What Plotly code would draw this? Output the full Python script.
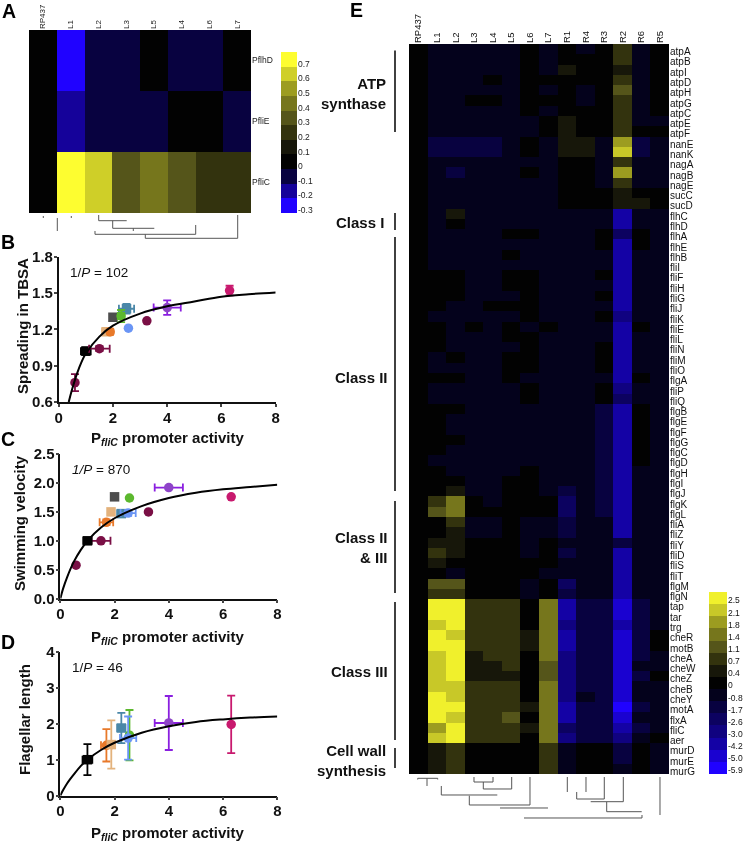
import plotly.graph_objects as go

W, H = 743, 843
def fx(p): return p / W
def fy(p): return 1 - p / H

# ---------- Panel A data ----------
a_cols = ["RP437", "L1", "L2", "L3", "L5", "L4", "L6", "L7"]
a_rows = ["PflhD", "PfliE", "PfliC"]
a_pflhD = [0, -0.3, -0.1, -0.1, 0, -0.1, -0.1, 0]
a_pfliE = [0, -0.2, -0.1, -0.1, -0.1, 0, 0, -0.1]
a_pfliC = [0, 0.7, 0.6, 0.3, 0.4, 0.3, 0.2, 0.2]
a_levels = [-0.3, -0.2, -0.1, 0, 0.1, 0.2, 0.3, 0.4, 0.5, 0.6, 0.7]
a_colors = ["#2000ff", "#15009a", "#080040", "#000000", "#17170a", "#33330e",
            "#55551a", "#76761c", "#9c9c20", "#cfcf28", "#fdfd30"]

# ---------- Panel E data (colour level per gene, strain) ----------
e_cols = ["RP437", "L1", "L2", "L3", "L4", "L5", "L6", "L7", "R1", "R4", "R3", "R2", "R6", "R5"]
e_genes = ["atpA","atpB","atpI","atpD","atpH","atpG","atpC","atpE","atpF","nanE","nanK","nagA","nagB","nagE","sucC","sucD",
           "flhC","flhD","flhA","flhE","flhB","fliI","fliF","fliH","fliG","fliJ","fliK","fliE","fliL","fliN","fliM","fliO",
           "flgA","fliP","fliQ","flgB","flgE","flgF","flgG","flgC","flgD","flgH","flgI","flgJ","flgK","flgL","fliA","fliZ",
           "fliY","fliD","fliS","fliT","flgM","flgN","tap","tar","trg","cheR","motB","cheA","cheW","cheZ","cheB","cheY",
           "motA","flxA","fliC","aer","murD","murE","murG"]
e_levels = [
 [0,-1,-1,-1,-1,-1,0,-1,0,-1,0,2,-1,0],
 [0,-1,-1,-1,-1,-1,0,-1,0,0,0,2,-1,0],
 [0,-1,-1,-1,-1,-1,0,-1,1,0,0,1,-1,0],
 [0,-1,-1,-1,0,-1,0,0,0,0,0,2,-1,0],
 [0,-1,-1,-1,-1,-1,0,-1,0,-1,0,3,-1,0],
 [0,-1,-1,0,0,-1,0,0,0,-1,0,2,-1,0],
 [0,-1,-1,-1,-1,-1,0,-1,0,0,0,2,-1,0],
 [0,-1,-1,-1,-1,-1,-1,0,1,0,0,2,-1,-1],
 [0,-1,-1,-1,-1,-1,-1,0,1,0,0,2,0,0],
 [0,-2,-2,-2,-2,-1,0,-1,1,1,-1,5,-2,-1],
 [0,-2,-2,-2,-2,-1,0,-1,1,1,-1,6,-2,-1],
 [0,-1,-1,-1,-1,-1,-1,-1,0,0,-1,2,-1,-1],
 [0,-1,-2,-1,-1,-1,0,-1,0,0,-1,5,-1,-1],
 [0,-1,-1,-1,-1,-1,-1,-1,0,0,-1,2,-1,-1],
 [0,-1,-1,-1,-1,-1,-1,-1,0,0,0,1,0,0],
 [0,-1,-1,-1,-1,-1,-1,-1,0,0,0,1,1,0],
 [0,-1,1,-1,-1,-1,-1,-1,-1,-1,-1,-5,-1,-1],
 [0,-1,0,-1,-1,-1,-1,-1,-1,-1,-1,-5,-1,-1],
 [0,-1,-1,-1,-1,0,0,-1,-1,-1,0,-3,0,-1],
 [0,-1,-1,-1,-1,-1,-1,-1,-1,-1,0,-5,0,-1],
 [0,-1,-1,-1,-1,0,-1,-1,-1,-1,-1,-5,-1,-1],
 [0,-1,-1,-1,-1,-1,-1,-1,-1,-1,-1,-5,-1,-1],
 [0,0,0,-1,-1,0,0,-1,-1,-1,0,-5,-1,-1],
 [0,0,0,-1,-1,0,0,-1,-1,-1,-1,-5,-1,-1],
 [0,0,0,-1,-1,-1,0,-1,-1,-1,0,-5,-1,-1],
 [0,0,-1,-1,0,0,0,-1,-1,-1,-1,-5,-1,-1],
 [0,-1,-1,-1,-1,-1,0,-1,-1,-1,0,-4,-1,-1],
 [0,0,-1,0,-1,0,-1,0,-1,-1,-1,-5,0,-1],
 [0,0,-1,-1,-1,0,0,-1,-1,-1,-1,-5,-1,-1],
 [0,0,-1,-1,-1,-1,0,-1,-1,-1,0,-5,-1,-1],
 [0,-1,0,-1,-1,0,0,-1,-1,-1,0,-5,-1,-1],
 [0,-1,-1,-1,-1,0,0,-1,-1,-1,0,-5,-1,-1],
 [0,0,0,-1,-1,0,-1,-1,-1,-1,-1,-5,0,-1],
 [0,-1,-1,-1,-1,-1,0,-1,-1,-1,0,-4,-1,-1],
 [0,-1,-1,-1,-1,-1,0,-1,-1,-1,0,-3,-1,-1],
 [0,0,0,-1,-1,-1,-1,-1,-1,-1,-2,-5,0,-1],
 [0,0,-1,-1,-1,-1,-1,-1,-1,-1,-2,-5,0,-1],
 [0,0,-1,-1,-1,-1,-1,-1,-1,-1,-2,-5,0,-1],
 [0,0,0,-1,-1,-1,-1,-1,-1,-1,-2,-5,0,-1],
 [0,0,-1,-1,-1,-1,-1,-1,-1,-1,-2,-5,0,-1],
 [0,-1,-1,-1,-1,-1,-1,-1,-1,-1,-2,-5,0,-1],
 [0,0,-1,-1,-1,-1,0,-1,-1,-1,-2,-5,-1,-1],
 [0,0,0,-1,-1,0,0,-1,-1,-1,-2,-5,-1,-1],
 [0,0,1,-1,-1,0,0,-1,-2,-1,-2,-5,-1,-1],
 [0,2,4,0,-1,0,0,0,-3,-1,-2,-5,-1,-1],
 [0,3,4,0,0,0,0,0,-3,-1,-2,-5,-1,-1],
 [0,0,2,-1,-1,0,-1,-1,-2,-1,-1,-5,-1,-1],
 [0,0,1,-1,-1,0,-1,-1,-2,-1,-1,-5,-1,-1],
 [0,1,1,0,0,0,-1,0,-1,-1,-1,-2,-1,-1],
 [0,2,1,0,0,0,-1,0,-2,-1,-1,-5,-1,-1],
 [0,1,0,0,0,0,0,0,-1,-1,-1,-5,-1,-1],
 [0,0,-1,0,0,0,0,-1,-1,-1,-1,-5,-1,-1],
 [0,3,3,0,0,0,-1,0,-3,-1,-1,-5,-1,-1],
 [0,2,2,0,0,0,-1,0,-2,-1,-1,-5,-1,-1],
 [0,7,7,2,2,2,0,4,-5,-2,-2,-6,-2,-1],
 [0,7,7,2,2,2,0,4,-5,-2,-2,-6,-2,-1],
 [0,6,7,2,2,2,0,4,-4,-2,-2,-5,-2,-1],
 [0,7,6,2,2,2,1,4,-5,-2,-2,-6,-2,0],
 [0,7,7,2,2,2,1,4,-5,-2,-2,-6,-2,0],
 [0,6,7,1,2,2,0,4,-4,-2,-2,-6,-2,-1],
 [0,6,7,1,1,2,0,3,-4,-2,-2,-6,-1,-1],
 [0,6,7,1,1,1,0,3,-4,-2,-2,-6,-2,0],
 [0,6,6,2,2,2,0,4,-4,-2,-2,-6,-1,-1],
 [0,7,6,2,2,2,0,4,-4,-1,-2,-6,-1,-1],
 [0,7,7,2,2,2,1,4,-5,-2,-2,-7,-2,-1],
 [0,7,6,2,2,3,0,4,-5,-2,-2,-6,-1,-1],
 [0,5,7,2,2,2,1,4,-3,-2,-2,-5,-2,-1],
 [0,6,7,2,2,2,0,4,-4,-2,-2,-4,-1,0],
 [0,1,2,0,0,0,0,2,-1,0,0,-2,0,-1],
 [0,1,2,0,0,0,0,2,-1,0,0,-2,0,-1],
 [0,1,2,0,0,0,0,2,-1,0,0,-1,0,-1],
]
e_ticks = [-7,-6,-5,-4,-3,-2,-1,0,1,2,3,4,5,6,7]
e_ticktext = ["-5.9","-5.0","-4.2","-3.0","-2.6","-1.7","-0.8","0","0.4","0.7","1.1","1.4","1.8","2.1","2.5"]
e_colors = ["#2000ff","#1a00d0","#1400a5","#100080","#0c0060","#080040","#04001c","#000000",
            "#17170a","#33330e","#55551a","#76761c","#9c9c20","#c8c828","#f0f02c"]

# ---------- Panels B, C, D data ----------
axis_ticks_x = [0, 2, 4, 6, 8]
b_curve_x = [0.37, 0.5, 0.75, 1, 1.5, 2, 3, 4, 5, 6, 7, 8]
b_curve_y = [0.6, 0.71, 0.88, 1.0, 1.14, 1.23, 1.33, 1.39, 1.43, 1.47, 1.49, 1.505]
c_curve_x = [0, 0.1, 0.25, 0.5, 0.75, 1, 1.5, 2, 3, 4, 5, 6, 7, 8]
c_curve_y = [0, 0.17, 0.37, 0.64, 0.84, 1.0, 1.23, 1.39, 1.60, 1.74, 1.83, 1.89, 1.93, 1.97]
d_curve_x = [0, 0.1, 0.25, 0.5, 0.75, 1, 1.5, 2, 3, 4, 5, 6, 7, 8]
d_curve_y = [0, 0.15, 0.34, 0.59, 0.82, 1.0, 1.27, 1.47, 1.75, 1.93, 2.05, 2.12, 2.17, 2.2]

strain_style = {
 "ref":   ("square", "#000000", "#000000"),
 "m1":    ("circle", "#7a0f45", "#7a0f45"),
 "m2":    ("circle", "#7a0f45", "#7a0f45"),
 "m3":    ("circle", "#7a0f45", "#7a0f45"),
 "gray":  ("square", "#4d4d4d", "#4d4d4d"),
 "green": ("circle", "#5cb82e", "#5cb82e"),
 "teal":  ("square", "#4a87a8", "#4a87a8"),
 "blue":  ("circle", "#6a95f5", "#6a95f5"),
 "tan":   ("square", "#e3b27c", "#e3b27c"),
 "orange":("circle", "#e8792a", "#e8792a"),
 "purple":("circle", "#8e44c8", "#8a1fe0"),
 "pink":  ("circle", "#c8196e", "#c8196e"),
}
# strain, x, y, x error, y error
b_points = [("ref",1,1.02,0.18,0.03),("m1",0.6,0.76,0.07,0.07),("m2",1.5,1.04,0.38,0.02),("m3",3.25,1.27,0,0),
            ("gray",2.0,1.3,0,0),("teal",2.5,1.37,0.28,0.04),("green",2.3,1.31,0.12,0.05),("blue",2.57,1.21,0,0),
            ("tan",1.75,1.18,0.15,0.02),("orange",1.9,1.18,0.1,0.02),("purple",4,1.38,0.5,0.06),("pink",6.3,1.52,0.03,0.04)]
c_points = [("m1",0.58,0.58,0,0),("m2",1.5,1.0,0.35,0),("ref",1,1,0.15,0),("m3",3.25,1.5,0,0),
            ("gray",2.0,1.76,0,0),("green",2.55,1.74,0,0),("tan",1.87,1.5,0.05,0.05),("orange",1.7,1.32,0.25,0.05),
            ("teal",2.25,1.47,0.15,0),("blue",2.5,1.48,0.28,0.05),("purple",4,1.92,0.52,0.02),("pink",6.3,1.76,0,0)]
d_points = [("ref",1,1,0.18,0.43),("orange",1.7,1.4,0.2,0.45),("tan",1.88,1.42,0,0.67),("teal",2.25,1.88,0.15,0.42),
            ("green",2.55,1.68,0.05,0.7),("blue",2.5,1.6,0.3,0.6),("purple",4,2.02,0.52,0.75),("pink",6.3,1.98,0,0.8)]

# ---------- Group labels and dendrogram layouts ----------
e_groups = [("ATP<br>synthase",388,94,50.5,132),("Class I",386,222.5,213,230),("Class II",390,377,237,491),
            ("Class II<br>&amp; III",390,547,501,593),("Class III",390,671,602,740),("Cell wall<br>synthesis",388,760,748,768)]
a_dendro = [[(43.3,216),(43.3,218)],[(57.3,218),(57.3,231)],[(71.3,216),(71.3,218)],[(98.7,215),(98.7,220.7),(126.7,220.7)],
            [(112.7,220.7),(112.7,228.3),(154.3,228.3)],[(133.3,228.3),(133.3,231)],[(95,231),(95,234.3),(195.7,234.3),(195.7,225)],
            [(145.3,234.3),(145.3,238.3),(237.7,238.3),(237.7,215)]]
e_dendro = [[(417.7,779.5),(417.7,778.3),(437.7,778.3),(437.7,779.5)],[(427,778.3),(427,786)],[(441.3,786),(441.3,795),(497.3,795)],
            [(474,777),(474,782),(493,782),(493,777)],[(483.3,782),(483.3,789),(511.7,789),(511.7,777)],
            [(469.3,795.7),(469.3,805),(530,805),(530,777)],[(500,808),(548,808)],
            [(567.3,777),(567.3,792)],[(586,777),(586,792)],[(576.7,792),(576.7,799),(604.3,799),(604.3,777)],
            [(590.7,801.7),(623.3,801.7),(623.3,777)],[(606.7,802),(606.7,811.7),(641.7,811.7)],
            [(660,777),(660,815)],[(524,818),(642,818),(642,815)]]

a_left, a_right, a_top, a_bot = 29, 251, 30, 213
e_left, e_right, e_top, e_bot = 409, 669, 44, 774
panel_boxes = {"B": (58.7, 275.7, 256.7, 402), "C": (60.3, 277.3, 454, 598.7), "D": (60.3, 277.3, 651.7, 795.7)}
title_x = {"B": 22, "C": 19, "D": 24}
title_y = {"B": 326, "C": 523, "D": 720}
xlabel_y = {"B": 438, "C": 637, "D": 833}
note_pos = {"B": (68, 272), "C": (70, 469), "D": (70, 667)}

FONT = "Liberation Sans"
fig = go.Figure()

def discrete_scale(colors):
    n = len(colors)
    out = []
    for i, c in enumerate(colors):
        out += [[i / n, c], [(i + 1) / n, c]]
    return out

gene_rows = list(range(len(e_genes)))

# Panel A heatmap and colour key
a_scale = discrete_scale(a_colors)
fig.add_trace(go.Heatmap(z=[a_pflhD, a_pfliE, a_pfliC], x=a_cols, y=a_rows, xaxis="x", yaxis="y",
                         zmin=-0.35, zmax=0.75, colorscale=a_scale, showscale=False))
fig.add_trace(go.Heatmap(z=[[v] for v in a_levels], x=[0], y=a_levels, xaxis="x6", yaxis="y6",
                         zmin=-0.35, zmax=0.75, colorscale=a_scale, showscale=False))
# Panel E heatmap and colour key
e_scale = discrete_scale(e_colors)
fig.add_trace(go.Heatmap(z=e_levels, x=e_cols, y=gene_rows, xaxis="x2", yaxis="y2",
                         zmin=-7.5, zmax=7.5, colorscale=e_scale, showscale=False))
fig.add_trace(go.Heatmap(z=[[v] for v in e_ticks], x=[0], y=e_ticks, xaxis="x7", yaxis="y7",
                         zmin=-7.5, zmax=7.5, colorscale=e_scale, showscale=False))

hidden = dict(showticklabels=False, ticks="", showgrid=False, zeroline=False, showline=False)
layout = dict(
    width=W, height=H, margin=dict(l=0, r=0, t=0, b=0, autoexpand=False), paper_bgcolor="white", plot_bgcolor="white",
    showlegend=False, font=dict(family=FONT, color="black"),
    xaxis=dict(domain=[fx(a_left), fx(a_right)], anchor="y", side="top", tickangle=-90, ticks="",
               tickfont=dict(size=8, color="#222"), showgrid=False, zeroline=False, showline=False, type="category"),
    yaxis=dict(domain=[fy(a_bot), fy(a_top)], anchor="x", side="right", autorange="reversed", ticks="",
               tickfont=dict(size=8.5, color="#222"), showgrid=False, zeroline=False, type="category"),
    xaxis2=dict(domain=[fx(e_left), fx(e_right)], anchor="y2", side="top", tickangle=-90, ticks="",
                tickfont=dict(size=9.5, color="#111"), showgrid=False, zeroline=False, type="category"),
    yaxis2=dict(domain=[fy(e_bot), fy(e_top)], anchor="x2", side="right", range=[70.5, -0.5], ticks="",
                tickfont=dict(size=10, color="#111"), showgrid=False, zeroline=False,
                tickmode="array", tickvals=[i + 0.25 for i in gene_rows], ticktext=e_genes),
    xaxis6=dict(domain=[fx(281), fx(297)], anchor="y6", **hidden),
    yaxis6=dict(domain=[fy(213), fy(52)], anchor="x6", side="right", range=[-0.35, 0.75], ticks="",
                tickvals=[v - 0.03 for v in a_levels], ticktext=[str(v) for v in a_levels],
                tickfont=dict(size=8.5, color="#222"), showgrid=False, zeroline=False),
    xaxis7=dict(domain=[fx(709), fx(727)], anchor="y7", **hidden),
    yaxis7=dict(domain=[fy(774), fy(592)], anchor="x7", side="right", range=[-7.5, 7.5], ticks="",
                tickvals=[v - 0.2 for v in e_ticks], ticktext=e_ticktext,
                tickfont=dict(size=8.5, color="#111"), showgrid=False, zeroline=False),
)

panels = [("B", 3, "Spreading in TBSA", [0.6, 1.8], [0.6, 0.9, 1.2, 1.5, 1.8], ["0.6", "0.9", "1.2", "1.5", "1.8"],
           b_curve_x, b_curve_y, b_points, "1/<i>P</i> = 102"),
          ("C", 4, "Swimming velocity", [0, 2.5], [0, 0.5, 1, 1.5, 2, 2.5], ["0.0", "0.5", "1.0", "1.5", "2.0", "2.5"],
           c_curve_x, c_curve_y, c_points, "<i>1/P</i> = 870"),
          ("D", 5, "Flagellar length", [0, 4], [0, 1, 2, 3, 4], ["0", "1", "2", "3", "4"],
           d_curve_x, d_curve_y, d_points, "1/<i>P</i> = 46")]

annotations = []
shapes = []
ax_line = dict(showline=True, linecolor="#111", linewidth=1.5, ticks="outside", ticklen=3, tickwidth=1.5,
               ticklabelstandoff=-2, showgrid=False, zeroline=False,
               tickfont=dict(size=15, family=FONT, color="#111", weight="bold"))
for name, idx, ytitle, yrange, yticks, ytext, cx, cy, pts, note in panels:
    L, R, T, B = panel_boxes[name]
    layout[f"xaxis{idx}"] = dict(domain=[fx(L), fx(R)], anchor=f"y{idx}", range=[0, 8], tickvals=axis_ticks_x, **ax_line)
    layout[f"yaxis{idx}"] = dict(domain=[fy(B), fy(T)], anchor=f"x{idx}", range=yrange, tickvals=yticks, ticktext=ytext, **ax_line)
    for sk, x, y, ex, ey in pts:
        sym, mc, bc = strain_style[sk]
        fig.add_trace(go.Scatter(
            x=[x], y=[y], mode="markers", xaxis=f"x{idx}", yaxis=f"y{idx}", cliponaxis=False,
            marker=dict(symbol=sym, size=9.5, color=mc, line=dict(width=0)),
            error_x=dict(type="data", array=[ex], visible=ex > 0, color=bc, thickness=1.8, width=4),
            error_y=dict(type="data", array=[ey], visible=ey > 0, color=bc, thickness=1.8, width=4),
        ))
    fig.add_trace(go.Scatter(x=cx, y=cy, mode="lines", xaxis=f"x{idx}", yaxis=f"y{idx}", cliponaxis=False,
                             line=dict(color="black", width=2, shape="spline")))
    nx, ny = note_pos[name]
    annotations.append(dict(text=note, xref="paper", yref="paper", x=fx(nx), y=fy(ny), xanchor="left", yanchor="middle",
                            showarrow=False, font=dict(size=13.5, family=FONT, color="#111")))
    annotations.append(dict(text=f"<b>{ytitle}</b>", xref="paper", yref="paper", x=fx(title_x[name]), y=fy(title_y[name]),
                            textangle=-90, xanchor="center", yanchor="middle", showarrow=False,
                            font=dict(size=15, family=FONT, color="#111")))
    annotations.append(dict(text="<b>P<sub><i>fliC</i></sub> promoter activity</b>", xref="paper", yref="paper",
                            x=fx(167), y=fy(xlabel_y[name]), xanchor="center", yanchor="middle", showarrow=False,
                            font=dict(size=15, family=FONT, color="#111")))

panel_letters = [("A", 9, 11), ("B", 8, 242), ("C", 8, 439), ("D", 8, 642), ("E", 356, 10)]
for t, x, y in panel_letters:
    annotations.append(dict(text=f"<b>{t}</b>", xref="paper", yref="paper", x=fx(x), y=fy(y), xanchor="center",
                            yanchor="middle", showarrow=False, font=dict(size=19.5, family=FONT, color="black")))
for t, x, y, y0, y1 in e_groups:
    annotations.append(dict(text=f"<b>{t}</b>", xref="paper", yref="paper", x=fx(x), y=fy(y), xanchor="right", align="right",
                            yanchor="middle", showarrow=False, font=dict(size=15, family=FONT, color="#111")))
    shapes.append(dict(type="line", xref="paper", yref="paper", x0=fx(395), x1=fx(395), y0=fy(y0), y1=fy(y1),
                       line=dict(color="#111", width=1.6)))
for seg in a_dendro + e_dendro:
    path = "M " + " L ".join(f"{fx(x):.5f},{fy(y):.5f}" for x, y in seg)
    shapes.append(dict(type="path", xref="paper", yref="paper", path=path, line=dict(color="#555", width=1)))

layout["annotations"] = annotations
layout["shapes"] = shapes
fig.update_layout(**layout)
page_js = ("document.body.style.margin='0';document.body.style.overflow='hidden';"
           "var s=document.createElement('style');"
           "s.textContent='svg text{font-variant-ligatures:none;-webkit-font-smoothing:antialiased}"
           ".svg-container,.main-svg{will-change:transform;opacity:0.999}';"
           "document.head.appendChild(s);")
fig.write_html("out.html", config={"displayModeBar": False}, post_script=page_js)
